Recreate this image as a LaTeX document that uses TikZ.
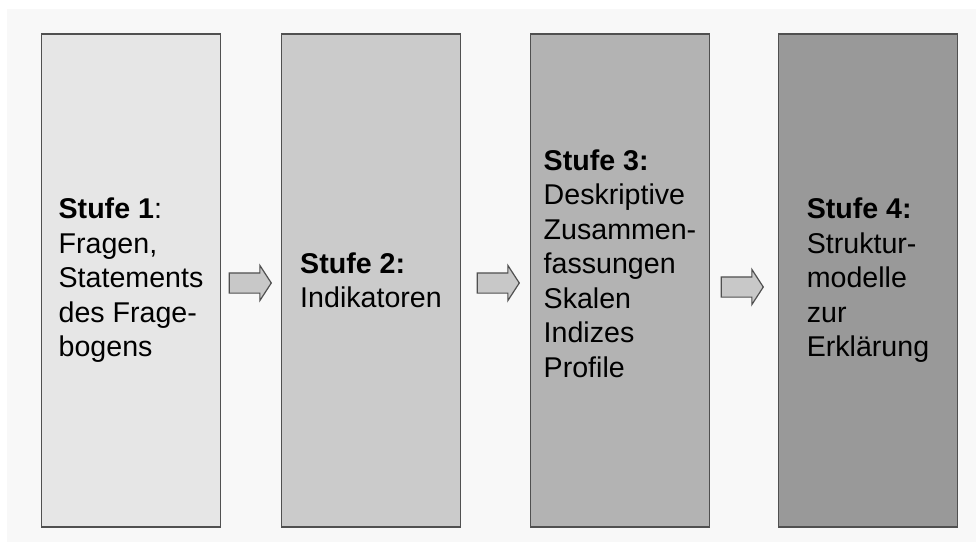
\documentclass[tikz,border=0pt]{standalone}
\usepackage{fontspec}
\setmainfont{Liberation Sans}
\usetikzlibrary{shapes.arrows}
\definecolor{panel}{HTML}{F8F8F8}
\definecolor{edge}{HTML}{505050}
\definecolor{stufeA}{HTML}{E6E6E6}
\definecolor{stufeB}{HTML}{CBCBCB}
\definecolor{stufeC}{HTML}{B3B3B3}
\definecolor{stufeD}{HTML}{999999}
\definecolor{pfeil}{HTML}{C8C8C8}

\begin{document}
\begin{tikzpicture}[x = 0.5pt, y = -0.5pt,
  stufe/.style = {draw = edge, line width = 0.75pt, minimum width = 89.5pt,
    minimum height = 246.5pt, inner sep = 0pt, align = left,
    font = \fontsize{14.3pt}{17.25pt}\selectfont},
  weiter/.style = {single arrow, draw = edge, fill = pfeil, line width = 0.6pt,
    inner sep = 0pt, text height = 4.75pt, text depth = 4.75pt,
    minimum height = 21pt, single arrow head extend = 3.75pt,
    single arrow tip angle = 114}]
% Background
\useasboundingbox (0, 0) rectangle (976, 542);
\fill[white] (0, 0) rectangle (976, 542);
\fill[panel] (7, 9) rectangle (976, 542);
% Stages
\node[stufe, fill = stufeA] (s1) at (131, 280.5)
  {\textbf{Stufe 1}:\\Fragen,\\Statements\\des Frage-\\bogens};
\node[stufe, fill = stufeB] (s2) at (371, 280.5)
  {\textbf{Stufe 2:}\\Indikatoren};
\node[stufe, fill = stufeC] (s3) at (620, 280.5)
  {\textbf{Stufe 3:}\\Deskriptive\\Zusammen-\\fassungen\\Skalen\\Indizes\\Profile\\\mbox{}};
\node[stufe, fill = stufeD] (s4) at (868, 280.5)
  {\textbf{Stufe 4:}\\Struktur-\\modelle\\zur\\Erklärung};
% Arrows
\node[weiter] (p12) at (247, 283) {};
\node[weiter] (p23) at (495, 283) {};
\node[weiter] (p34) at (739, 287) {};
\end{tikzpicture}
\end{document}
